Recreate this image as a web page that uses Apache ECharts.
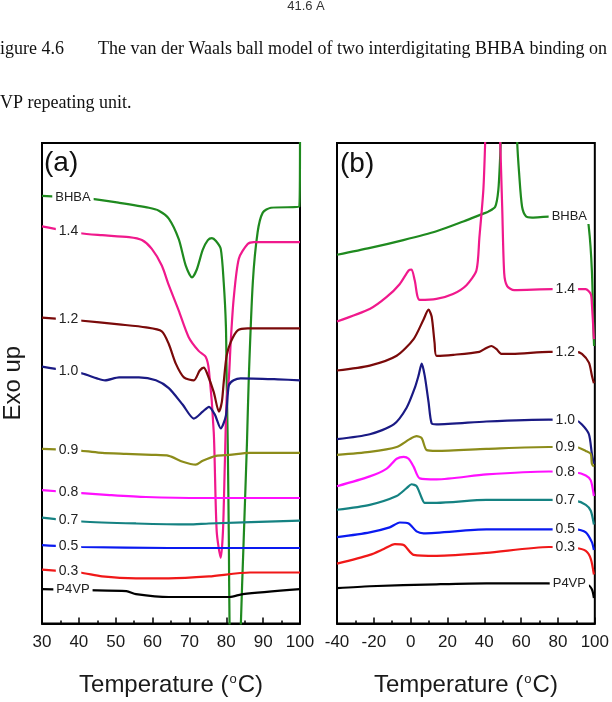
<!DOCTYPE html>
<html>
<head>
<meta charset="utf-8">
<script src="https://cdn.jsdelivr.net/npm/echarts@6/dist/echarts.min.js"></script>
<style>
  html, body { margin: 0; padding: 0; background: #fff; }
  #chartBox { width: 612px; height: 702px; }
</style>
</head>
<body>
<div id="chartBox"></div>
<script>
  // curve names, top to bottom
  var curveNames = ['BHBA', '1.4', '1.2', '1.0', '0.9', '0.8', '0.7', '0.5', '0.3', 'P4VP'];
  var curveColors = ['#1f8a1f', '#f0198c', '#7a0a0a', '#1a1a84', '#8c8c1a', '#ff10ff', '#158282', '#0a1af0', '#f01818', '#000000'];

  var ticksA = [30, 40, 50, 60, 70, 80, 90, 100];
  var ticksB = [-40, -20, 0, 20, 40, 60, 80, 100];

  // (a) heating scans: [temperature degC, heat flow, arbitrary units]
  var bhbaA = [[30,436],[35,435],[43.6,433],[51,429],[59,424],[61.7,421],[64.4,413],[67.1,392],[69,365],[70.7,353],[72,361],[73.6,381],[75,391],[76.1,393],[77.2,390],[78.5,382],[79.3,348],[79.9,303],[80.1,250],[80.4,183],[80.7,83],[80.9,-7],[81.5,-90],[82.6,-110],[83.5,-90],[83.9,-7],[84.7,83],[85.6,183],[86.1,250],[87.2,348],[88.5,399],[89.9,419],[92.1,424],[99.8,425],[100,495]];
  var r14A = [[30,405],[40.3,398],[46.3,396],[53.6,394],[57.1,391],[59.8,382],[62.5,365],[64.4,345],[67.1,319],[69.8,292],[72.5,278],[74.4,272],[75.3,258],[76.6,195],[77.4,94],[78.5,67],[79.1,94],[79.6,162],[80.1,229],[80.7,250],[81.2,287],[82,331],[83.4,372],[85.8,387],[87.5,389],[100,389]];
  var r12A = [[30,312],[40.3,309],[50.9,305],[58.2,302],[62.5,298],[64.4,285],[66.3,265],[68.5,251],[71.2,248],[72.8,258],[73.9,261],[74.7,256],[76.6,236],[78,216],[78.8,226],[79.3,246],[80.1,273],[81.2,287],[83.1,299],[85.8,301],[100,301]];
  var r10A = [[30,262],[40.8,255],[44.9,250],[47.1,248],[50.9,251],[56.3,251],[60.9,248],[64.4,240],[68.2,223],[71.2,209],[73.6,216],[75.3,221],[76.9,213],[78.5,199],[79.9,212],[80.7,243],[82,248],[83.9,250],[94,249],[100,248]];
  var r09A = [[30,178],[40.8,176],[46.3,174],[52.8,173],[59.8,172],[64.4,171],[68.2,165],[71.7,162],[73.6,166],[77.2,171],[80.9,172],[86.4,174],[100,174]];
  var r08A = [[30,136],[40.8,133],[48.4,131],[58.2,129],[73.6,128],[100,128]];
  var r07A = [[30,108],[40.8,104],[55.5,102],[69.8,101],[75.3,102],[100,105]];
  var r05A = [[30,80],[40.8,78],[64.4,77],[100,77]];
  var r03A = [[30,55],[40.3,52],[46.3,48],[55.5,46],[64.4,46],[75.3,48],[86.4,52],[100,52]];
  var p4vpA = [[30,35],[42,34],[52.9,33],[55.5,30],[64.4,27],[80.9,27],[84.5,30],[100,35]];

  // (b) cooling scans
  var bhbaB = [[-40,376],[-22,383],[-4,391],[14,400],[28.6,410],[39.5,418],[42.2,420],[45.9,425],[47.6,442],[48.6,476],[49.5,520],[51,600],[53.5,620],[56,600],[57.8,493],[58.9,459],[60.5,425],[62.7,415],[65.9,414],[75,415],[95.1,415],[96.8,403],[98.4,360],[99.4,293],[99.6,283]];
  var r14B = [[-40,308],[-22,321],[-13,333],[-6,346],[-1.1,360],[0.5,361],[2.2,350],[4.9,330],[14,331],[23,336],[30.3,345],[35.7,360],[37.3,393],[39.5,443],[40.5,493],[41.5,560],[44.5,600],[47.5,560],[48.6,493],[49.7,425],[50.8,357],[52.4,344],[56.2,340],[77,341],[95,341],[97.8,336],[98.4,326],[99.5,290]];
  var r12B = [[-40,258],[-22.2,263],[-7.6,273],[1.6,290],[7,310],[9.7,320],[11.4,313],[13,286],[14.1,273],[23.2,274],[37.3,277],[41.1,281],[43.8,283],[46.5,280],[49.2,275],[55.1,275],[75.1,277],[89.7,277],[93,275],[96.8,266],[98.4,253],[99.5,245]];
  var r10B = [[-40,188],[-22.2,193],[-9.2,203],[-2.2,220],[2.2,240],[4.3,253],[6,265],[7.6,253],[9.7,226],[11.4,204],[14.1,203],[41.1,206],[75.1,208],[89.7,207],[93,203],[96.8,193],[98.4,173],[99.5,163]];
  var r09B = [[-40,172],[-22.2,175],[-7.6,180],[-0.5,188],[3.2,191],[6,189],[8.6,177],[14.1,176],[41.1,178],[75.1,180],[89.7,180],[95.1,176],[97.8,173],[98.4,163],[99.5,160]];
  var r08B = [[-40,140],[-22.2,150],[-13,158],[-7.6,168],[-3.8,170],[-1.1,168],[1.6,160],[4.9,148],[14.1,147],[41.1,152],[75.1,155],[89.7,154],[95.1,151],[97.8,146],[99.5,130]];
  var r07B = [[-40,116],[-22.2,121],[-7.6,130],[-2.2,138],[0.5,142],[3.2,140],[6,128],[7.6,123],[14.1,123],[41.1,126],[75.1,126],[89.7,125],[95.1,121],[97.8,115],[99.5,101]];
  var r05B = [[-40,88],[-22.2,93],[-11.4,98],[-5.9,103],[-1.1,102],[3.2,94],[7,92],[41.1,96],[75.1,96],[89.7,96],[95.1,93],[98.4,83],[99.5,75]];
  var r03B = [[-40,61],[-22.2,70],[-14.6,76],[-8.6,81],[-3.8,80],[1.6,70],[14.1,69],[41.1,72],[75.1,78],[89.7,77],[95.1,74],[97.8,66],[99.5,50]];
  var p4vpB = [[-40,36],[-22.2,38],[14.1,40],[41.1,41],[73.5,41],[95.7,40],[98.4,35],[99.5,26]];

  var curvesA = [bhbaA, r14A, r12A, r10A, r09A, r08A, r07A, r05A, r03A, p4vpA];
  var curvesB = [bhbaB, r14B, r12B, r10B, r09B, r08B, r07B, r05B, r03B, p4vpB];

  // y of a curve at temperature t (for placing the name on the curve)
  function valAt(data, t) {
    for (var i = 1; i < data.length; i++) {
      if (data[i][0] >= t) {
        var a = data[i - 1], b = data[i];
        return a[1] + (b[1] - a[1]) * (t - a[0]) / (b[0] - a[0]);
      }
    }
    return data[data.length - 1][1];
  }

  var chart = echarts.init(document.getElementById('chartBox'));

  var series = [];
  function addCurves(curves, idx, labelT) {
    curves.forEach(function (d, i) {
      var nm = curveNames[i];
      var isWord = isNaN(parseFloat(nm));
      var t = labelT + (isWord ? 1.2 * (idx === 0 ? 1 : 1.8) : 0);
      series.push({
        name: nm,
        type: 'line',
        xAxisIndex: idx,
        yAxisIndex: idx,
        data: d,
        showSymbol: false,
        smooth: 0.25,
        lineStyle: { color: curveColors[i], width: 2.2 },
        markPoint: {
          symbol: 'rect',
          symbolSize: 0,
          data: [{ coord: [t, valAt(d, t)] }],
          label: {
            show: true,
            position: 'inside',
            formatter: nm,
            color: '#222',
            fontFamily: 'Liberation Sans',
            fontSize: isWord ? 13 : 14,
            backgroundColor: '#fff',
            padding: [1, 3]
          }
        }
      });
    });
  }
  addCurves(curvesA, 0, 37.2);
  addCurves(curvesB, 1, 84);

  var axisFont = { color: '#1a1a1a', fontFamily: 'Liberation Sans', fontSize: 17, margin: 10 };
  var nameStyle = {
    color: '#1a1a1a', fontFamily: 'Liberation Sans', fontSize: 24,
    rich: { s: { fontSize: 13, fontFamily: 'Liberation Sans', color: '#1a1a1a', verticalAlign: 'top', padding: [0, 1, 12, 1] } }
  };

  function xAxisOf(idx, ticks, step) {
    return {
      type: 'value',
      gridIndex: idx,
      min: ticks[0],
      max: ticks[ticks.length - 1],
      interval: step,
      name: 'Temperature ({s|o}C)',
      nameLocation: 'middle',
      nameGap: 49,
      nameTextStyle: nameStyle,
      axisLine: { show: true, lineStyle: { color: '#000', width: 2 } },
      axisTick: { show: true, inside: true, length: 6, lineStyle: { color: '#000', width: 1.5 } },
      minorTick: { show: true, splitNumber: 2, length: 3, lineStyle: { color: '#000', width: 1.5 } },
      splitLine: { show: false },
      axisLabel: axisFont
    };
  }

  var option = {
    animation: false,
    backgroundColor: '#fff',
    grid: [
      { left: 42, top: 143, width: 258, height: 490, show: true, borderColor: '#000', borderWidth: 2 },
      { left: 337, top: 143, width: 259, height: 490, show: true, borderColor: '#000', borderWidth: 2 }
    ],
    xAxis: [xAxisOf(0, ticksA, 10), xAxisOf(1, ticksB, 20)],
    yAxis: [
      {
        type: 'value', gridIndex: 0, min: 0, max: 490,
        name: 'Exo up', nameLocation: 'middle', nameGap: 17,
        nameTextStyle: { color: '#1a1a1a', fontFamily: 'Liberation Sans', fontSize: 24 },
        axisLine: { show: false }, axisTick: { show: false },
        axisLabel: { show: false }, splitLine: { show: false }
      },
      {
        type: 'value', gridIndex: 1, min: 0, max: 490,
        axisLine: { show: false }, axisTick: { show: false },
        axisLabel: { show: false }, splitLine: { show: false }
      }
    ],
    graphic: [
      { type: 'text', left: 'center', top: 0, style: { text: '41.6 A', fontFamily: 'Liberation Sans', fontSize: 13, fill: '#333' } },
      { type: 'text', left: 0, top: 40, style: { text: 'igure 4.6', fontFamily: 'Liberation Serif', fontSize: 18, fill: '#111' } },
      { type: 'text', left: 98, top: 40, style: { text: 'The van der Waals ball model of two interdigitating BHBA binding on', fontFamily: 'Liberation Serif', fontSize: 18, fill: '#111' } },
      { type: 'text', left: 0, top: 94, style: { text: 'VP repeating unit.', fontFamily: 'Liberation Serif', fontSize: 18, fill: '#111' } },
      { type: 'text', left: 44, top: 149, z: 10, style: { text: '(a)', fontFamily: 'Liberation Sans', fontSize: 28, fill: '#111' } },
      { type: 'text', left: 340, top: 150, z: 10, style: { text: '(b)', fontFamily: 'Liberation Sans', fontSize: 28, fill: '#111' } }
    ],
    series: series
  };

  chart.setOption(option);
  window.onresize = chart.resize;
</script>
</body>
</html>
